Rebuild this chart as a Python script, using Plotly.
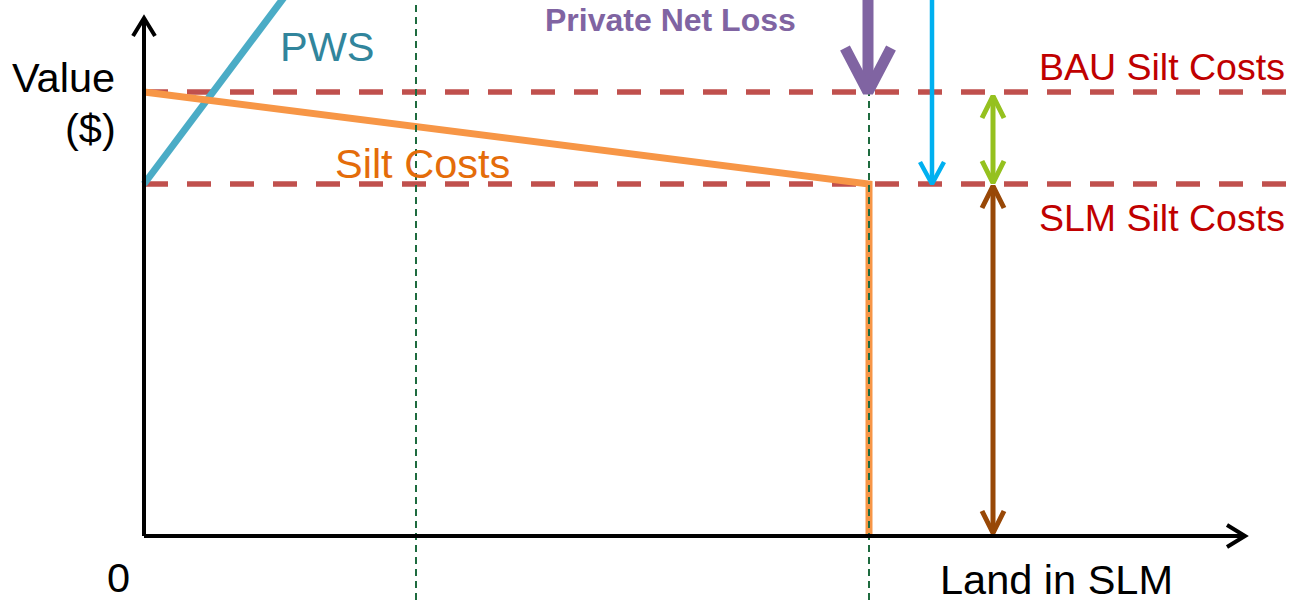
import plotly.graph_objects as go

# ---- data (conceptual units; origin at the axes' corner) ----
bau_silt_cost = 444          # BAU Silt Costs level
slm_silt_cost = 352          # SLM Silt Costs level
land_slm = 725               # amount of land in SLM (vertical marker)
land_left = 272              # left reference (dotted)
silt_x = [0, land_slm, land_slm]
silt_y = [bau_silt_cost, slm_silt_cost, 0]
pws_x = [0, 160]
pws_y = [slm_silt_cost, slm_silt_cost + 160 * 1.333]
axis_x_end = 1101
axis_y_end = 518
cyan_x = 788
double_x = 849
top_y = 620
x_range = [-144, 1153]
y_range = [-64, 536]

fig = go.Figure()

def seg_trace(xs, ys, color, width, dash="solid"):
    fig.add_trace(go.Scatter(x=xs, y=ys, mode="lines",
                             line=dict(color=color, width=width, dash=dash),
                             hoverinfo="skip", showlegend=False, cliponaxis=False))

def arrow_pts(x, y_from, y_to, dx, dy, both=False):
    s = 1 if y_to < y_from else -1
    xs = [x, x, None, x - dx, x, x + dx]
    ys = [y_from, y_to, None, y_to + s * dy, y_to, y_to + s * dy]
    if both:
        xs += [None, x - dx, x, x + dx]
        ys += [None, y_from - s * dy, y_from, y_from - s * dy]
    return xs, ys

# dashed cost levels
red = "#C0504D"
for lvl in [bau_silt_cost, slm_silt_cost]:
    seg_trace([0, x_range[1]], [lvl, lvl], red, 5.5, dash="24px,19px")

# PWS line
seg_trace(pws_x, pws_y, "#4BACC6", 7)

# silt cost line
seg_trace(silt_x, silt_y, "#F79646", 7)

# dotted green verticals
green_d = "#1E6B3F"
seg_trace([land_left, land_left], [y_range[0], top_y], green_d, 2, dash="7px,5px")
seg_trace([land_slm, land_slm], [y_range[0], bau_silt_cost], green_d, 2, dash="7px,5px")

# axes
ax, ay = arrow_pts(0, 0, axis_y_end, 11, 18)
seg_trace(ax, ay, "black", 4)
xs = [0, axis_x_end, None, axis_x_end - 18, axis_x_end, axis_x_end - 18]
ys = [0, 0, None, 11, 0, -11]
seg_trace(xs, ys, "black", 4)

# purple arrow
px_, py_ = arrow_pts(land_slm - 1, top_y, bau_silt_cost, 23, 44)
seg_trace(px_, py_, "#8064A2", 11)

# cyan arrow
cx, cy = arrow_pts(cyan_x, top_y, slm_silt_cost, 12, 22)
seg_trace(cx, cy, "#00B0F0", 4.5)

# green double arrow
gx, gy = arrow_pts(double_x, bau_silt_cost - 4, slm_silt_cost + 1, 11, 22, both=True)
seg_trace(gx, gy, "#95C11F", 5)

# brown double arrow
bx, by = arrow_pts(double_x, slm_silt_cost - 2, 3, 11, 22, both=True)
seg_trace(bx, by, "#984807", 5)

font = "Liberation Sans, Arial, sans-serif"
def label(text, x, y, color, size, bold=False):
    fig.add_annotation(x=x, y=y, xref="x", yref="y", text=f"<b>{text}</b>" if bold else text,
                       showarrow=False, xanchor="center", yanchor="middle",
                       font=dict(family=font, size=size, color=color))

label("Value", -81, 459, "black", 41.5)
label("($)", -54, 408, "black", 41.5)
label("PWS", 183, 490, "#31859C", 41.5)
label("Private Net Loss", 526, 516, "#8064A2", 32, bold=True)
label("BAU Silt Costs", 1018, 469, "#C00000", 37.5)
label("SLM Silt Costs", 1018, 318, "#C00000", 37.5)
label("Silt Costs", 278, 373, "#E46C0A", 41.5)
label("0", -26, -41, "black", 41.5)
label("Land in SLM", 912, -43, "black", 41.5)

fig.update_layout(
    width=1297, height=600, margin=dict(l=0, r=0, t=0, b=0),
    paper_bgcolor="white", plot_bgcolor="white",
    xaxis=dict(range=x_range, visible=False, fixedrange=True),
    yaxis=dict(range=y_range, visible=False, fixedrange=True),
    showlegend=False,
)

fig.write_html("out.html")
